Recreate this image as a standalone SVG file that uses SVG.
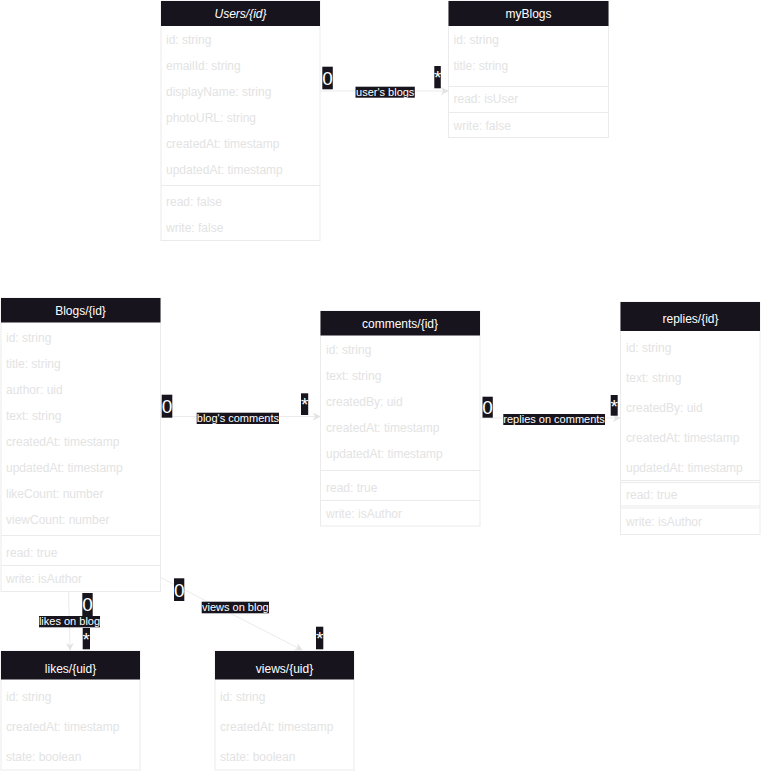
<svg xmlns="http://www.w3.org/2000/svg" width="762" height="772" viewBox="0 0 762 772">
<style>
text{font-family:"Liberation Sans",Arial,sans-serif}
.box{fill:#fff;stroke:#ebebeb;stroke-width:1}
.hd{fill:#18141d;stroke:none}
.ht{fill:#fff;font-size:12px;text-anchor:middle}
.rt{fill:#e3e3e3;font-size:12px}
.sep{stroke:#ebebeb;stroke-width:1}
.edge{stroke:#ebebeb;stroke-width:1;fill:none;marker-end:url(#arr)}
.lb{fill:#18141d}
.lt{fill:#fff;font-size:11px;text-anchor:middle}
.mt{fill:#fff;font-size:19px;text-anchor:middle}
</style>
<defs>
<marker id="arr" viewBox="0 0 10 10" refX="9" refY="5" markerWidth="8" markerHeight="8" markerUnits="userSpaceOnUse" orient="auto">
<path d="M0,0 L10,5 L0,10 L3,5 Z" fill="#e3e3e3"/>
</marker>
</defs>
<rect width="762" height="772" fill="#fff"/>

<g id="users">
<rect class="box" x="161" y="1" width="159" height="239.5"/>
<rect class="hd" x="161" y="1" width="159" height="25"/>
<text class="ht" x="240.5" y="18" font-style="italic">Users/{id}</text>
<text class="rt" x="166" y="44">id: string</text>
<text class="rt" x="166" y="70">emailId: string</text>
<text class="rt" x="166" y="96">displayName: string</text>
<text class="rt" x="166" y="122">photoURL: string</text>
<text class="rt" x="166" y="148">createdAt: timestamp</text>
<text class="rt" x="166" y="174">updatedAt: timestamp</text>
<line class="sep" x1="161" y1="185.5" x2="320" y2="185.5"/>
<text class="rt" x="166" y="206">read: false</text>
<text class="rt" x="166" y="232">write: false</text>
</g>

<g id="myBlogs">
<rect class="box" x="448.5" y="1" width="160" height="136.5"/>
<rect class="hd" x="448.5" y="1" width="160" height="25"/>
<text class="ht" x="528.5" y="18">myBlogs</text>
<text class="rt" x="453.5" y="44">id: string</text>
<text class="rt" x="453.5" y="70">title: string</text>
<line class="sep" x1="448.5" y1="86.5" x2="608.5" y2="86.5"/>
<text class="rt" x="453.5" y="103">read: isUser</text>
<line class="sep" x1="448.5" y1="112.5" x2="608.5" y2="112.5"/>
<text class="rt" x="453.5" y="130">write: false</text>
</g>

<g id="blogs">
<rect class="box" x="1" y="298" width="159.5" height="293.5"/>
<rect class="hd" x="1" y="298" width="159.5" height="24.5"/>
<text class="ht" x="80.5" y="315">Blogs/{id}</text>
<text class="rt" x="6" y="341.5">id: string</text>
<text class="rt" x="6" y="367.5">title: string</text>
<text class="rt" x="6" y="393.5">author: uid</text>
<text class="rt" x="6" y="419.5">text: string</text>
<text class="rt" x="6" y="445.5">createdAt: timestamp</text>
<text class="rt" x="6" y="471.5">updatedAt: timestamp</text>
<text class="rt" x="6" y="497.5">likeCount: number</text>
<text class="rt" x="6" y="523.5">viewCount: number</text>
<line class="sep" x1="1" y1="535.5" x2="160.5" y2="535.5"/>
<text class="rt" x="6" y="556.5">read: true</text>
<line class="sep" x1="1" y1="565.5" x2="160.5" y2="565.5"/>
<text class="rt" x="6" y="583">write: isAuthor</text>
</g>

<g id="comments">
<rect class="box" x="320.5" y="311" width="159.5" height="215"/>
<rect class="hd" x="320.5" y="311" width="159.5" height="24.5"/>
<text class="ht" x="400" y="328">comments/{id}</text>
<text class="rt" x="326" y="354">id: string</text>
<text class="rt" x="326" y="380">text: string</text>
<text class="rt" x="326" y="406">createdBy: uid</text>
<text class="rt" x="326" y="432">createdAt: timestamp</text>
<text class="rt" x="326" y="458">updatedAt: timestamp</text>
<line class="sep" x1="320.5" y1="470.5" x2="480" y2="470.5"/>
<text class="rt" x="326" y="492">read: true</text>
<line class="sep" x1="320.5" y1="500.5" x2="480" y2="500.5"/>
<text class="rt" x="326" y="518">write: isAuthor</text>
</g>

<g id="replies">
<rect class="box" x="620.5" y="302" width="139.5" height="232.5"/>
<rect class="hd" x="620.5" y="302" width="139.5" height="29"/>
<text class="ht" x="690.5" y="322.5">replies/{id}</text>
<text class="rt" x="626" y="352">id: string</text>
<text class="rt" x="626" y="382">text: string</text>
<text class="rt" x="626" y="411.5">createdBy: uid</text>
<text class="rt" x="626" y="442">createdAt: timestamp</text>
<text class="rt" x="626" y="472">updatedAt: timestamp</text>
<line class="sep" x1="620.5" y1="480.5" x2="760" y2="480.5"/>
<line class="sep" x1="620.5" y1="482.5" x2="760" y2="482.5"/>
<text class="rt" x="626" y="499">read: true</text>
<line class="sep" x1="620.5" y1="506" x2="760" y2="506"/>
<line class="sep" x1="620.5" y1="508" x2="760" y2="508"/>
<text class="rt" x="626" y="526">write: isAuthor</text>
</g>

<g id="likes">
<rect class="box" x="1" y="651" width="139" height="119"/>
<rect class="hd" x="1" y="651" width="139" height="28.5"/>
<text class="ht" x="70.5" y="672.5">likes/{uid}</text>
<text class="rt" x="6" y="701">id: string</text>
<text class="rt" x="6" y="731">createdAt: timestamp</text>
<text class="rt" x="6" y="761">state: boolean</text>
</g>

<g id="views">
<rect class="box" x="215" y="651" width="139" height="119"/>
<rect class="hd" x="215" y="651" width="139" height="28.5"/>
<text class="ht" x="284.5" y="672.5">views/{uid}</text>
<text class="rt" x="220" y="701">id: string</text>
<text class="rt" x="220" y="731">createdAt: timestamp</text>
<text class="rt" x="220" y="761">state: boolean</text>
</g>

<g id="connectors">
<line class="edge" x1="320" y1="91" x2="448" y2="91"/>
<line class="edge" x1="160.5" y1="416.5" x2="320" y2="416.5"/>
<line class="edge" x1="480" y1="418" x2="620" y2="418"/>
<line class="edge" x1="68.5" y1="591.5" x2="70" y2="650"/>
<line class="edge" x1="160.5" y1="577.5" x2="302" y2="650"/>

<rect class="lb" x="322.3" y="66.7" width="10.5" height="22.6"/>
<text class="mt" x="327.5" y="85">0</text>
<rect class="lb" x="434.3" y="66" width="6.5" height="22.3"/>
<text class="mt" x="437.6" y="84">*</text>
<rect class="lb" x="355.5" y="86.7" width="59.3" height="11"/>
<text class="lt" x="385.2" y="96">user's blogs</text>

<rect class="lb" x="161.7" y="394.7" width="10.6" height="23"/>
<text class="mt" x="167" y="413">0</text>
<rect class="lb" x="301" y="393.3" width="7.2" height="21.7"/>
<text class="mt" x="304.6" y="411">*</text>
<rect class="lb" x="196.7" y="412.7" width="82.3" height="11.3"/>
<text class="lt" x="237.9" y="422">blog's comments</text>

<rect class="lb" x="482.5" y="396.7" width="10.3" height="21"/>
<text class="mt" x="487.6" y="414">0</text>
<rect class="lb" x="610.7" y="395" width="7" height="20.7"/>
<text class="mt" x="614.2" y="413">*</text>
<rect class="lb" x="503.3" y="414" width="101.7" height="11"/>
<text class="lt" x="554.1" y="423.3">replies on comments</text>

<rect class="lb" x="82.3" y="593" width="10.4" height="23"/>
<text class="mt" x="87.5" y="611">0</text>
<rect class="lb" x="82.7" y="628" width="7.3" height="21.3"/>
<text class="mt" x="86.3" y="646">*</text>
<rect class="lb" x="39" y="616" width="61" height="11.3"/>
<text class="lt" x="69.5" y="625.3">likes on blog</text>

<rect class="lb" x="174" y="578.3" width="10.3" height="22.7"/>
<text class="mt" x="179.2" y="596.5">0</text>
<rect class="lb" x="316" y="626.7" width="7.3" height="22.6"/>
<text class="mt" x="319.6" y="645">*</text>
<rect class="lb" x="201.7" y="601.7" width="67.3" height="11.6"/>
<text class="lt" x="235.3" y="611">views on blog</text>
</g>
</svg>
